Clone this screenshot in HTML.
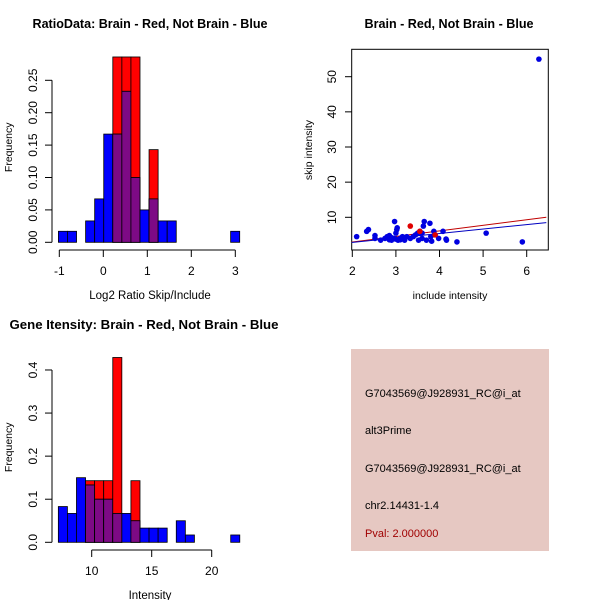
<!DOCTYPE html>
<html><head><meta charset="utf-8"><style>
body{margin:0;background:#fff}
svg{display:block;font-family:"Liberation Sans",sans-serif}
</style></head><body>
<svg id="s" width="600" height="600" xmlns="http://www.w3.org/2000/svg">
<rect width="600" height="600" fill="#fff"/>
<text x="150" y="28" text-anchor="middle" font-size="12.5" font-weight="bold" textLength="235" lengthAdjust="spacingAndGlyphs">RatioData: Brain - Red, Not Brain - Blue</text>
<text x="449" y="28" text-anchor="middle" font-size="12.5" font-weight="bold" textLength="169" lengthAdjust="spacingAndGlyphs">Brain - Red, Not Brain - Blue</text>
<text x="144" y="329" text-anchor="middle" font-size="12.5" font-weight="bold" textLength="269" lengthAdjust="spacingAndGlyphs">Gene Itensity: Brain - Red, Not Brain - Blue</text>
<g id="p1"></g>
<g id="p2"></g>
<g id="p3"></g>
<g>
<rect x="351" y="349" width="198" height="202" fill="#e6c8c2"/>
<g font-size="11">
<text x="365" y="397">G7043569@J928931_RC@i_at</text>
<text x="365" y="434">alt3Prime</text>
<text x="365" y="472">G7043569@J928931_RC@i_at</text>
<text x="365" y="509">chr2.14431-1.4</text>
<text x="365" y="537" fill="#a00000">Pval: 2.000000</text>
</g></g>
</svg>
<script>
// Ratio histogram data
const ratioBinStart=-1.02, ratioBinWidth=0.206;
const ratioBlue=[0.017,0.017,0,0.033,0.067,0.167,0.167,0.233,0.1,0.05,0.067,0.033,0.033,0,0,0,0,0,0,0.017];
const ratioRed=[0,0,0,0,0,0,0.286,0.286,0.286,0,0.143,0,0,0,0,0,0,0,0,0];
const ratioXTicks=[-1,0,1,2,3];
const ratioYTicks=["0.00","0.05","0.10","0.15","0.20","0.25"];
// Intensity histogram data
const intBinStart=7.22, intBinWidth=0.756;
const intBlue=[0.083,0.067,0.15,0.133,0.1,0.1,0.067,0.067,0.05,0.033,0.033,0.033,0,0.05,0.017,0,0,0,0,0.017];
const intRed=[0,0,0,0.143,0.143,0.143,0.429,0,0.143,0,0,0,0,0,0,0,0,0,0,0];
const intXTicks=[10,15,20];
const intYTicks=["0.0","0.1","0.2","0.3","0.4"];
// Scatter data
const blueX=[6.28,2.1,2.33,2.37,2.52,2.52,2.65,2.75,2.8,2.85,2.9,2.95,2.97,3.0,3.02,3.03,3.05,3.1,3.15,3.2,3.25,3.33,3.4,3.45,3.5,3.52,3.6,3.63,3.65,3.7,3.78,3.8,3.82,3.87,3.9,3.98,4.08,4.15,4.16,4.4,5.07,5.9,2.9,3.0,3.6,3.55,2.85,3.1];
const blueY=[55,4.5,6,6.5,4.8,4,3.5,4,4.5,4.8,3.5,4,8.8,5.5,6.5,7,3.5,4,4.5,3.5,4.5,4,4.5,5,5.5,3.5,4,7.5,8.8,3.5,8.3,4.5,3.2,6,5,4,6,3.8,3.5,3,5.5,3,4.2,3.8,5.5,6,3.6,3.6];
const redX=[3.33,3.55,3.9];
const redY=[7.5,6,5];
const redLine=[1.95,2.9,6.45,10];
const blueLine=[1.95,2.8,6.45,8.5];
const scXTicks=[2,3,4,5,6];
const scYTicks=[10,20,30,40,50];

const NS="http://www.w3.org/2000/svg";
function mk(parent,tag,attrs){const e=document.createElementNS(NS,tag);for(const k in attrs)e.setAttribute(k,attrs[k]);parent.appendChild(e);return e;}
function txt(parent,x,y,s,rot,size){const t=mk(parent,'text',{x:x,y:y,'font-size':size||12,'text-anchor':'middle'});if(rot)t.setAttribute('transform','rotate(-90 '+x+' '+y+')');t.textContent=s;return t;}

function hist(g,start,w,blue,red,xs,ys,xticks,yticks,yline,xlabel,cy){
  const X=v=>59.3+(v-xs[0])*xs[1], Y=v=>cy-v*ys;
  for(let i=0;i<blue.length;i++){
    const x0=start+i*w,x1=x0+w;
    const b=blue[i],r=red[i],m=Math.min(b,r);
    if(r>0){const e=mk(g,'rect',{x:X(x0),y:Y(r),width:X(x1)-X(x0),height:Y(0)-Y(r),fill:'#ff0000',stroke:'#000','stroke-width':0.8});
      }
    if(b>0){const e=mk(g,'rect',{x:X(x0),y:Y(b),width:X(x1)-X(x0),height:Y(0)-Y(b),fill:'#0000ff',stroke:'#000','stroke-width':0.8});
      }
    if(m>0){const e=mk(g,'rect',{x:X(x0),y:Y(m),width:X(x1)-X(x0),height:Y(0)-Y(m),fill:'#7d0a85',stroke:'#000','stroke-width':0.8});
      }
  }
  mk(g,'line',{x1:52,x2:52,y1:Y(0),y2:Y(parseFloat(yticks[yticks.length-1])),stroke:'#000'});
  yticks.forEach(t=>{const v=parseFloat(t);mk(g,'line',{x1:45,x2:52,y1:Y(v),y2:Y(v),stroke:'#000'});
    const e=txt(g,37,Y(v),t,true);});
  mk(g,'line',{x1:X(xticks[0]),x2:X(xticks[xticks.length-1]),y1:yline,y2:yline,stroke:'#000'});
  xticks.forEach(v=>{mk(g,'line',{x1:X(v),x2:X(v),y1:yline,y2:yline+7,stroke:'#000'});
    const e=txt(g,X(v),yline+25,String(v));});
  let e=txt(g,150,yline+49,xlabel,false,11.5);
  e=txt(g,12,cy-95,'Frequency',true,10.5);
}
hist(document.getElementById('p1'),ratioBinStart,ratioBinWidth,ratioBlue,ratioRed,[-1,44],648,ratioXTicks,ratioYTicks,250,'Log2 Ratio Skip/Include',242.3);
hist(document.getElementById('p2'),intBinStart,intBinWidth,intBlue,intRed,[7.3,12],430.8,intXTicks,intYTicks,550,'Intensity',542.3);

(function(){
  const g=document.getElementById('p3');
  const X=v=>352.3+(v-2)*43.6, Y=v=>217.3-(v-10)*3.515;
  mk(g,'rect',{x:351.7,y:49.3,width:196.6,height:200.7,fill:'none',stroke:'#000'});
  const cp=mk(g,'clipPath',{id:'cp'});mk(cp,'rect',{x:351.7,y:49.3,width:196.6,height:200.7});
  let l=mk(g,'line',{x1:X(redLine[0]),y1:Y(redLine[1]),x2:X(redLine[2]),y2:Y(redLine[3]),stroke:'#c00000','clip-path':'url(#cp)'});
  
  l=mk(g,'line',{x1:X(blueLine[0]),y1:Y(blueLine[1]),x2:X(blueLine[2]),y2:Y(blueLine[3]),stroke:'#0000c0','clip-path':'url(#cp)'});
  
  for(let i=0;i<blueX.length;i++){const c=mk(g,'circle',{cx:X(blueX[i]),cy:Y(blueY[i]),r:2.8,fill:'#0000e0'});
    }
  for(let i=0;i<redX.length;i++){const c=mk(g,'circle',{cx:X(redX[i]),cy:Y(redY[i]),r:2.8,fill:'#e00000'});
    }
  scXTicks.forEach(v=>{mk(g,'line',{x1:X(v),x2:X(v),y1:250,y2:257,stroke:'#000'});
    const e=txt(g,X(v),275,String(v));});
  scYTicks.forEach(v=>{mk(g,'line',{x1:345,x2:351.7,y1:Y(v),y2:Y(v),stroke:'#000'});
    const e=txt(g,336,Y(v),String(v),true);});
  let e=txt(g,450,299,'include intensity',false,10.5);
  e=txt(g,312,150,'skip intensity',true,10.5);
})();
</script>
</body></html>
